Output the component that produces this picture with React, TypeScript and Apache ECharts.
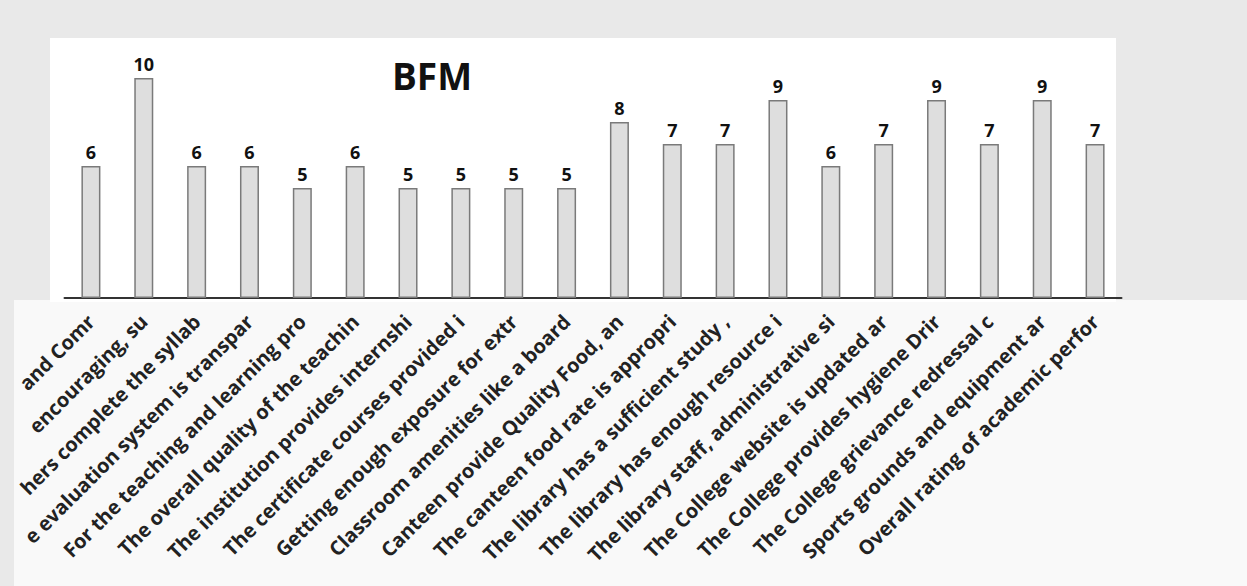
import React, { useEffect, useRef } from "react";
import * as echarts from "echarts";

const categories: string[] = [
  "and Comr",
  "encouraging, su",
  "hers complete the syllab",
  "e evaluation system is transpar",
  "For the teaching and learning pro",
  "The overall quality of the teachin",
  "The institution provides internshi",
  "The certificate courses provided i",
  "Getting enough exposure for extr",
  "Classroom amenities like a board",
  "Canteen provide Quality Food, an",
  "The canteen food rate is appropri",
  "The library has a sufficient study ,",
  "The library has enough resource i",
  "The library staff, administrative si",
  "The College website is updated ar",
  "The College provides hygiene Drir",
  "The College grievance redressal c",
  "Sports grounds and equipment ar",
  "Overall rating of academic perfor",
];

const values: number[] = [6, 10, 6, 6, 5, 6, 5, 5, 5, 5, 8, 7, 7, 9, 6, 7, 9, 7, 9, 7];

const chartTitle = "BFM";

export default function App() {
  const ref = useRef<HTMLDivElement>(null);
  useEffect(() => {
    if (!ref.current) return;
    const chart = echarts.init(ref.current, undefined, { renderer: "svg" });
    chart.setOption({
      animation: false,
      backgroundColor: "#e9e9e9",
      graphic: [
        { type: "rect", z: -10, shape: { x: 14, y: 300, width: 1233, height: 286 }, style: { fill: "#f9f9f9" } },
        { type: "rect", z: -10, shape: { x: 50, y: 38, width: 1066, height: 264 }, style: { fill: "#ffffff" } },
      ],
      title: {
        text: chartTitle,
        left: 387,
        top: 52,
        textStyle: { fontFamily: "Open Sans", fontWeight: "bold", fontSize: 37, color: "#111" },
      },
      grid: { left: 64.5, right: 125.5, top: 34, bottom: 288, containLabel: false, outerBoundsMode: "none" },
      xAxis: {
        type: "category",
        data: categories,
        axisLine: { lineStyle: { color: "#333", width: 2 } },
        axisTick: { show: false },
        axisLabel: {
          interval: 0,
          rotate: 45,
          margin: 20,
          fontFamily: "Open Sans",
          fontWeight: "bold",
          fontSize: 20,
          color: "#222",
        },
      },
      yAxis: { type: "value", min: 0, max: 12, show: false, splitLine: { show: false } },
      series: [
        {
          type: "bar",
          data: values,
          barWidth: 19,
          itemStyle: { color: "#dedede", borderColor: "#7a7a7a", borderWidth: 1.5 },
          label: {
            show: true,
            position: "top",
            distance: 5,
            fontFamily: "Open Sans",
            fontWeight: "bold",
            fontSize: 18,
            color: "#111",
          },
        },
      ],
    });
    return () => chart.dispose();
  }, []);
  return <div ref={ref} style={{ position: "absolute", left: 0, top: 0, width: 1247, height: 586 }} />;
}
